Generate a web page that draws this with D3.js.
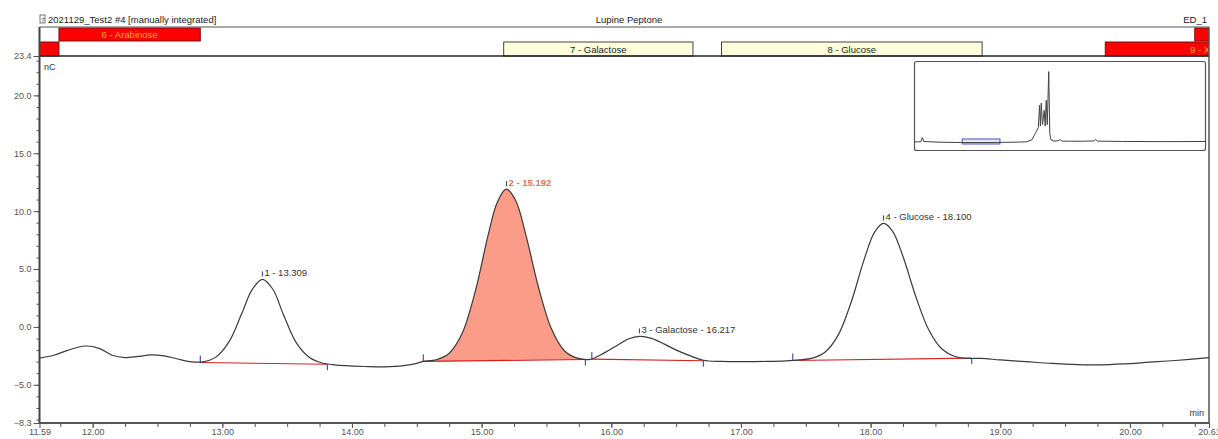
<!DOCTYPE html>
<html>
<head>
<meta charset="utf-8">
<script src="https://cdn.jsdelivr.net/npm/d3@7"></script>
<style>
  body { margin: 0; background: #fff; }
  svg { display: block; font-family: "Liberation Sans", Arial, sans-serif; }
</style>
</head>
<body>
<svg id="graph" width="1218" height="439"></svg>
<script>
// trace (time in min, signal in nC)
const times = [11.59, 11.70, 11.80, 11.94, 12.05, 12.15, 12.25, 12.35, 12.45, 12.55, 12.65, 12.75, 12.85,
  12.95, 13.05, 13.15, 13.23, 13.31, 13.39, 13.47, 13.57, 13.67, 13.77, 13.85, 13.95, 14.10, 14.25, 14.40, 14.50,
  14.55, 14.65, 14.75, 14.85, 14.95, 15.05, 15.12, 15.19, 15.26, 15.34, 15.44, 15.54, 15.64, 15.74, 15.84,
  15.95, 16.05, 16.13, 16.22, 16.31, 16.41, 16.51, 16.61, 16.71, 16.85, 17.00, 17.20, 17.35,
  17.45, 17.55, 17.65, 17.75, 17.85, 17.95, 18.03, 18.10, 18.17, 18.25, 18.35, 18.45, 18.55, 18.65, 18.75, 18.85,
  19.00, 19.20, 19.40, 19.60, 19.77, 19.95, 20.15, 20.35, 20.61];
const signal = [-2.69, -2.45, -2.05, -1.65, -1.85, -2.45, -2.65, -2.55, -2.42, -2.50, -2.75, -3.00, -3.02,
  -2.61, -1.32, 1.15, 3.22, 4.10, 3.25, 1.10, -1.36, -2.62, -3.12, -3.25, -3.35, -3.42, -3.45, -3.35, -3.15,
  -2.97, -2.84, -2.27, -0.55, 3.03, 7.92, 10.75, 11.90, 10.98, 8.00, 3.36, -0.21, -2.08, -2.70, -2.80,
  -2.22, -1.56, -1.05, -0.82, -0.99, -1.49, -2.05, -2.50, -2.88, -2.98, -3.00, -2.98, -2.93,
  -2.85, -2.69, -2.16, -0.71, 2.13, 5.81, 8.17, 8.94, 8.26, 6.08, 2.58, -0.29, -1.91, -2.56, -2.72, -2.72,
  -2.85, -3.00, -3.15, -3.25, -3.28, -3.20, -3.05, -2.90, -2.65];

// integrated peaks
const peakTimes = [13.309, 15.192, 16.217, 18.100];
const peakHeights = [4.10, 11.90, -0.82, 8.94];
const peakNames = ["1 - 13.309", "2 - 15.192", "3 - Galactose - 16.217", "4 - Glucose - 18.100"];
const baseStartT = [12.83, 14.55, 15.85, 17.40];
const baseStartV = [-3.08, -2.98, -2.78, -2.90];
const baseEndT = [13.81, 15.80, 16.71, 18.78];
const baseEndV = [-3.22, -2.82, -2.92, -2.70];

// named windows above the trace
const bandNames = ["6 - Arabinose", "", "", "7 - Galactose", "8 - Glucose", "9 - X"];
const bandStart = [11.74, 20.50, 11.59, 15.17, 16.85, 19.81];
const bandEnd = [12.83, 20.61, 11.74, 16.63, 18.86, 21.20];
const bandRow = [0, 0, 1, 1, 1, 1];
const bandKind = ["red", "red", "red", "cream", "cream", "red"];

// overview trace in the small window (min, relative signal)
const overviewT = [0, 1.6, 2.0, 2.3, 6, 12, 18, 24, 27, 28.3, 28.8, 29.3, 29.8, 30.1, 30.3, 30.5, 30.8, 31.2,
  31.45, 31.7, 31.95, 32.3, 32.55, 32.8, 33.5, 34.5, 35, 35.5, 40, 43, 43.5, 44, 50, 60, 70];
const overviewV = [0, 0, 6, 0.5, -0.5, -1, -1, -0.5, 0, 3, 9, 14, 20, 51, 22, 54, 24, 44,
  22, 58, 24, 98, 12, 3, 1, 1.5, 3, 1, 0.8, 1.2, 3, 1, 0.5, 0.3, 0.5];

const yMajor = [23.4, 20, 15, 10, 5, 0, -5, -8.3];
const xMajor = [12, 13, 14, 15, 16, 17, 18, 19, 20];

const svg = d3.select('#graph');
const plotLeft = 39.5, plotRight = 1209, plotTop = 56, plotBottom = 423;

const x = d3.scaleLinear().domain([11.59, 20.61]).range([plotLeft, plotRight]);
const y = d3.scaleLinear().domain([-8.3, 23.4]).range([plotBottom, plotTop]);

svg.append('clipPath').attr('id', 'plotclip')
  .append('rect').attr('x', plotLeft).attr('y', 27).attr('width', plotRight - plotLeft).attr('height', plotBottom - 27);

// header texts
svg.append('rect').attr('x', 40).attr('y', 15).attr('width', 5).attr('height', 8)
  .attr('fill', '#fff').attr('stroke', '#555').attr('stroke-width', 0.8);
svg.append('text').attr('x', 41.2).attr('y', 22).attr('font-size', 6).attr('fill', '#333').text('7');
svg.append('text').attr('x', 48).attr('y', 23).attr('font-size', 9.5).attr('fill', '#222')
  .text('2021129_Test2 #4 [manually integrated]');
svg.append('text').attr('x', 629).attr('y', 23).attr('font-size', 9.5).attr('fill', '#222')
  .attr('text-anchor', 'middle').text('Lupine Peptone');
svg.append('text').attr('x', 1207).attr('y', 23).attr('font-size', 9.5).attr('fill', '#222')
  .attr('text-anchor', 'end').text('ED_1');

// windows band
const bandG = svg.append('g').attr('clip-path', 'url(#plotclip)');
const rowY = [28, 42], rowH = [13, 14];
bandNames.forEach(function(name, i) {
  const x0 = x(bandStart[i]), x1 = x(bandEnd[i]);
  const red = bandKind[i] === 'red';
  bandG.append('rect')
    .attr('x', x0).attr('y', rowY[bandRow[i]])
    .attr('width', x1 - x0).attr('height', rowH[bandRow[i]])
    .attr('fill', red ? '#ff0000' : '#ffffdc')
    .attr('stroke', red ? '#7a1010' : '#444').attr('stroke-width', 1);
  if (name) {
    const cx = name === '9 - X' ? 1200 : (x0 + x1) / 2;
    bandG.append('text').attr('x', cx).attr('y', rowY[bandRow[i]] + rowH[bandRow[i]] / 2 + 3.5)
      .attr('text-anchor', 'middle').attr('font-size', 9.5)
      .attr('fill', red ? '#ffb020' : '#222').text(name);
  }
});

// frame
svg.append('line').attr('x1', plotLeft).attr('x2', plotRight).attr('y1', 27).attr('y2', 27)
  .attr('stroke', '#555').attr('stroke-width', 1.2);
svg.append('line').attr('x1', plotLeft).attr('x2', plotRight).attr('y1', plotTop).attr('y2', plotTop)
  .attr('stroke', '#222').attr('stroke-width', 1.6);
svg.append('line').attr('x1', plotRight).attr('x2', plotRight).attr('y1', 27).attr('y2', plotBottom)
  .attr('stroke', '#555').attr('stroke-width', 1.5);

// y axis
const yAxis = svg.append('g').attr('transform', 'translate(' + plotLeft + ',0)');
yAxis.append('g')
  .call(d3.axisLeft(y).tickValues(d3.range(-8, 24)).tickSize(3).tickFormat(''))
  .call(g => g.select('.domain').remove());
yAxis.append('g')
  .call(d3.axisLeft(y).tickValues(yMajor).tickSize(6).tickPadding(2).tickFormat(d3.format('.1f')))
  .call(g => g.select('.domain').remove());
yAxis.selectAll('text').attr('font-size', 9).attr('fill', '#555').attr('font-family', null);
yAxis.selectAll('line').attr('stroke', '#555');
svg.append('line').attr('x1', plotLeft).attr('x2', plotLeft).attr('y1', 27).attr('y2', plotBottom + 1)
  .attr('stroke', '#444').attr('stroke-width', 2);

// x axis
const xAxis = svg.append('g').attr('transform', 'translate(0,' + plotBottom + ')');
xAxis.append('g')
  .call(d3.axisBottom(x).tickValues(d3.range(11.75, 20.6, 0.25)).tickSize(4).tickFormat(''))
  .call(g => g.select('.domain').remove());
xAxis.append('g')
  .call(d3.axisBottom(x).tickValues([11.59].concat(xMajor, [20.61])).tickSize(5).tickPadding(1)
    .tickFormat(d3.format('.2f')))
  .call(g => g.select('.domain').remove());
xAxis.selectAll('text').attr('font-size', 9).attr('fill', '#555').attr('font-family', null);
xAxis.selectAll('line').attr('stroke', '#555');
svg.append('line').attr('x1', plotLeft - 1).attr('x2', plotRight + 1).attr('y1', plotBottom).attr('y2', plotBottom)
  .attr('stroke', '#555').attr('stroke-width', 2.2);

svg.append('text').attr('x', 44).attr('y', 70).attr('font-size', 9).attr('fill', '#333').text('nC');
svg.append('text').attr('x', 1204).attr('y', 416).attr('font-size', 9).attr('fill', '#333')
  .attr('text-anchor', 'end').text('min');

const plot = svg.append('g').attr('clip-path', 'url(#plotclip)');
const trace = d3.range(times.length).map(i => [times[i], signal[i]]);
const line = d3.line().x(d => x(d[0])).y(d => y(d[1])).curve(d3.curveCatmullRom.alpha(0.5));

// filled peak 2 between trace and its baseline
const k = 1;
const peakPts = trace.filter(d => d[0] >= baseStartT[k] && d[0] <= baseEndT[k]);
const baseAt = t => baseStartV[k] + (t - baseStartT[k]) / (baseEndT[k] - baseStartT[k]) * (baseEndV[k] - baseStartV[k]);
const area = d3.area().x(d => x(d[0])).y0(d => y(baseAt(d[0]))).y1(d => y(d[1]))
  .curve(d3.curveCatmullRom.alpha(0.5));
plot.append('path').datum([[baseStartT[k], baseStartV[k]]].concat(peakPts, [[baseEndT[k], baseEndV[k]]]))
  .attr('d', area).attr('fill', '#fa9c88');

// integration baselines
peakTimes.forEach(function(p, i) {
  plot.append('line')
    .attr('x1', x(baseStartT[i])).attr('y1', y(baseStartV[i]))
    .attr('x2', x(baseEndT[i])).attr('y2', y(baseEndV[i]))
    .attr('stroke', '#d42020').attr('stroke-width', 1.1);
});

plot.append('path').datum(trace).attr('d', line)
  .attr('fill', 'none').attr('stroke', '#3a3a3a').attr('stroke-width', 1.2);

// peak start / end markers
peakTimes.forEach(function(p, i) {
  const sx = x(baseStartT[i]), sy = y(baseStartV[i]);
  const ex = x(baseEndT[i]), ey = y(baseEndV[i]);
  plot.append('line').attr('x1', sx).attr('x2', sx).attr('y1', sy - 7).attr('y2', sy)
    .attr('stroke', '#3030a0').attr('stroke-width', 1);
  plot.append('line').attr('x1', ex).attr('x2', ex).attr('y1', ey).attr('y2', ey + 6)
    .attr('stroke', '#3030a0').attr('stroke-width', 1);
});

// peak labels
peakTimes.forEach(function(p, i) {
  const px = x(p), py = y(peakHeights[i]);
  const col = i === 1 ? '#e2735f' : '#333';
  plot.append('line').attr('x1', px).attr('x2', px).attr('y1', py - 8).attr('y2', py - 3)
    .attr('stroke', i === 1 ? '#444' : '#3030a0').attr('stroke-width', 1);
  plot.append('text').attr('x', px + 2).attr('y', py - 3).attr('font-size', 9.5)
    .attr('font-weight', i === 1 ? 'bold' : null).attr('fill', col).text(peakNames[i]);
});

// overview window
const ox = d3.scaleLinear().domain([0, 70]).range([914, 1206]);
const oy = d3.scaleLinear().domain([-10, 110]).range([149, 63]);
svg.append('rect').attr('x', 914.5).attr('y', 61.5).attr('width', 291).attr('height', 89).attr('rx', 2)
  .attr('fill', '#fff').attr('stroke', '#555').attr('stroke-width', 1.2);
svg.append('rect').attr('x', ox(11.59)).attr('y', 139).attr('width', ox(20.61) - ox(11.59)).attr('height', 5)
  .attr('fill', '#e6e6ff').attr('stroke', '#4a4ad0').attr('stroke-width', 1);
const overview = d3.range(overviewT.length).map(i => [overviewT[i], overviewV[i]]);
svg.append('path').datum(overview)
  .attr('d', d3.line().x(d => ox(d[0])).y(d => oy(d[1])))
  .attr('fill', 'none').attr('stroke', '#444').attr('stroke-width', 1);
</script>
</body>
</html>
